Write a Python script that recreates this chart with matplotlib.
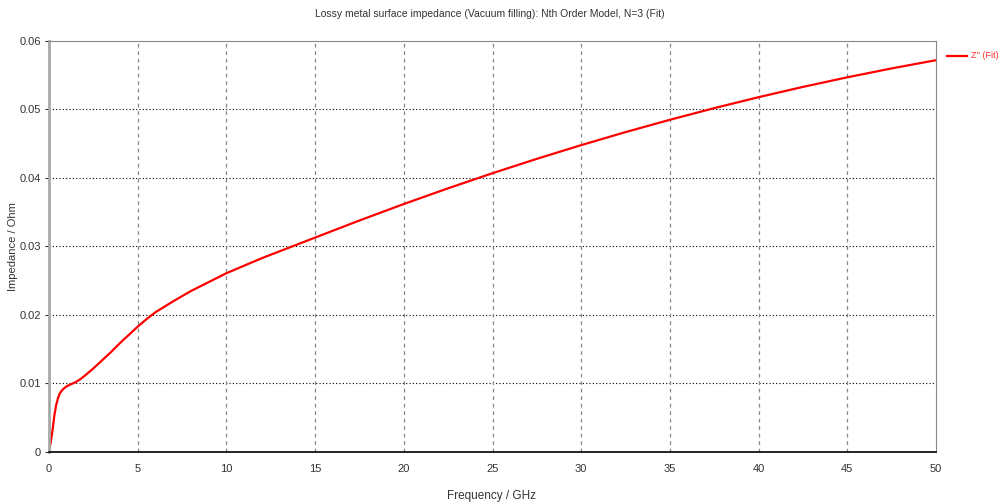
import matplotlib.pyplot as plt
from matplotlib.lines import Line2D

# values
freq_ghz = [0, 0.1, 0.2, 0.3, 0.4, 0.5, 0.6, 0.7, 0.85, 1.0, 1.25, 1.5, 1.75, 2,
            2.5, 3, 3.5, 4, 4.5, 5, 5.5, 6, 6.5, 7, 8, 9, 10, 11, 12, 13, 14, 15,
            17.5, 20, 22.5, 25, 27.5, 30, 32.5, 35, 37.5, 40, 42.5, 45, 47.5, 50]
z_fit = [0, 0.0015, 0.0032, 0.0053, 0.0068, 0.0078, 0.0085, 0.0089, 0.0093,
         0.0096, 0.0099, 0.0102, 0.0106, 0.0111, 0.0122, 0.0134, 0.0146, 0.0159,
         0.0171, 0.0183, 0.0194, 0.0204, 0.0212, 0.0220, 0.0235, 0.0248, 0.0261,
         0.0272, 0.0283, 0.0293, 0.0303, 0.0313, 0.0338, 0.0362, 0.0385, 0.0407,
         0.0428, 0.0448, 0.0467, 0.0485, 0.0502, 0.0518, 0.0533, 0.0547, 0.0560,
         0.0572]
x_ticks = [0, 5, 10, 15, 20, 25, 30, 35, 40, 45, 50]
y_ticks = [0, 0.01, 0.02, 0.03, 0.04, 0.05, 0.06]
y_tick_labels = ["0", "0.01", "0.02", "0.03", "0.04", "0.05", "0.06"]

plt.rcParams['font.family'] = ['Liberation Sans', 'DejaVu Sans']
txt = '#333333'

fig = plt.figure(figsize=(10.02, 5.03), dpi=100)
ax = fig.add_axes([0.0489, 0.1014, 0.8853, 0.8171])

ax.plot(freq_ghz, z_fit, color='#ff0000', lw=1.6, label="Z'' (Fit)")
ax.set_xlim(0, 50)
ax.set_ylim(0, 0.06)
ax.set_xticks(x_ticks)
ax.set_xticklabels([str(t) for t in x_ticks])
ax.set_yticks(y_ticks)
ax.set_yticklabels(y_tick_labels)
ax.tick_params(axis='both', length=3, width=0.8, colors=txt, labelsize=8, pad=3)
ax.tick_params(axis='x', length=0, pad=9)

# grid: dotted black horizontals, dashed grey verticals
for y in y_ticks[1:-1]:
    ax.axhline(y, color='black', lw=0.8, ls=(0, (1, 2)), zorder=1)
for x in x_ticks[1:-1]:
    ax.axvline(x, color='#888888', lw=0.9, ls=(0, (3, 3)), zorder=1)

ax.spines['left'].set_color('#a8a8a8')
ax.spines['left'].set_linewidth(2)
ax.spines['bottom'].set_color('black')
ax.spines['bottom'].set_linewidth(1.2)
ax.spines['top'].set_color('#888888')
ax.spines['right'].set_color('#888888')

fig.text(0.489, 0.972, "Lossy metal surface impedance (Vacuum filling): Nth Order Model, N=3 (Fit)",
         ha='center', va='center', fontsize=7.5, color=txt)
fig.text(0.491, 0.014, "Frequency / GHz", ha='center', va='center', fontsize=8.5, color=txt)
fig.text(0.013, 0.51, "Impedance / Ohm", ha='center', va='center', rotation=90,
         fontsize=8, color=txt)

# legend outside on the right
fig.lines.append(Line2D([0.945, 0.965], [0.889, 0.889], color='#ff0000', lw=1.6,
                        transform=fig.transFigure))
fig.text(0.969, 0.889, "Z'' (Fit)", ha='left', va='center', fontsize=6.5, color='#ff3030')

fig.savefig("out.png", dpi=100)
